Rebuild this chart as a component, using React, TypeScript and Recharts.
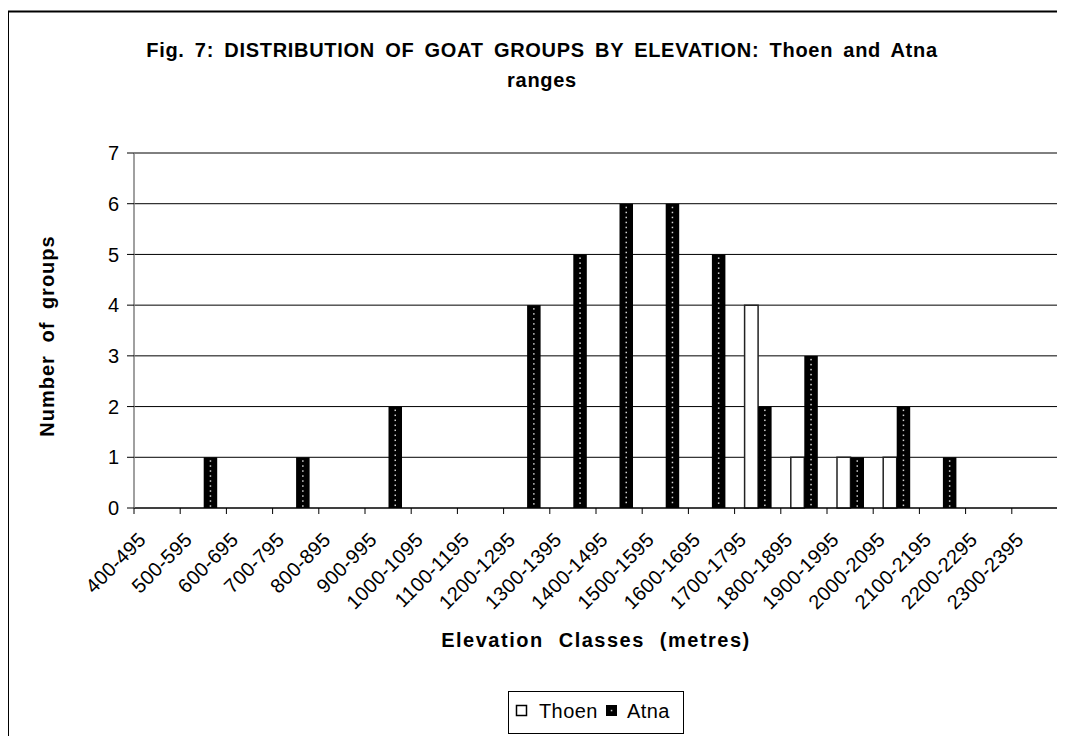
import React from 'react';
import { BarChart, Bar, XAxis, YAxis, CartesianGrid } from 'recharts';

// elevation classes (metres)
const categories = [
  '400-495', '500-595', '600-695', '700-795', '800-895', '900-995',
  '1000-1095', '1100-1195', '1200-1295', '1300-1395', '1400-1495',
  '1500-1595', '1600-1695', '1700-1795', '1800-1895', '1900-1995',
  '2000-2095', '2100-2195', '2200-2295', '2300-2395',
];
const thoenGroups = [0, 0, 0, 0, 0, 0, 0, 0, 0, 0, 0, 0, 0, 4, 1, 1, 1, 0, 0, 0];
const atnaGroups = [0, 1, 0, 1, 0, 2, 0, 0, 4, 5, 6, 6, 5, 2, 3, 1, 2, 1, 0, 0];
const yTicks = [0, 1, 2, 3, 4, 5, 6, 7];
const seriesNames = ['Thoen', 'Atna'];

const data = categories.map((range, i) => ({
  range,
  Thoen: thoenGroups[i],
  Atna: atnaGroups[i],
}));

const W = 1065;
const H = 736;
const MARGIN = { top: 153, right: 7, left: 74, bottom: 128 };
const Y_AXIS_W = 60;
const X_AXIS_H = 100;
const PLOT_LEFT = MARGIN.left + Y_AXIS_W;
const PLOT_RIGHT = W - MARGIN.right;
const PLOT_BOTTOM = H - MARGIN.bottom - X_AXIS_H;
const BAND = (PLOT_RIGHT - PLOT_LEFT) / categories.length;
const FONT = '"Liberation Sans", Arial, sans-serif';

function XTick(props: any) {
  const { x, y, payload, index } = props;
  const half = BAND / 2;
  const tx = x - 10;
  const ty = y + 33;
  return (
    <g>
      <line x1={x - half} x2={x - half} y1={y} y2={y + 6} stroke="#000" />
      {index === categories.length - 1 && (
        <line x1={x + half} x2={x + half} y1={y} y2={y + 6} stroke="#000" />
      )}
      <text
        x={tx}
        y={ty}
        transform={`rotate(-45, ${tx}, ${ty})`}
        textAnchor="end"
        fontSize={20}
        fontFamily={FONT}
        fill="#000"
        style={{ letterSpacing: '0.3px' }}
      >
        {payload.value}
      </text>
    </g>
  );
}

// black bar with a column of light dots, like the Excel pattern fill
function AtnaShape(props: any) {
  const { x, y, width, height } = props;
  if (!height || height <= 0) return null;
  const dots = [];
  for (let yy = y + 3; yy < y + height - 2; yy += 5) {
    dots.push(
      <rect key={yy} x={x + width / 2 - 0.75} y={yy} width={1.5} height={1.5} fill="#d0d0d0" />
    );
  }
  return (
    <g>
      <rect x={x} y={y} width={width} height={height} fill="#000" />
      {dots}
    </g>
  );
}

export default function App() {
  return (
    <div
      style={{
        position: 'relative',
        width: W,
        height: H,
        margin: '-8px 0 0 -8px',
        overflow: 'hidden',
        background: '#fff',
      }}
    >
      <div style={{ position: 'absolute', left: 0, top: 0 }}>
        <BarChart
          width={W}
          height={H}
          data={data}
          margin={MARGIN}
          barSize={13.5}
          barGap={0}
        >
          <CartesianGrid vertical={false} stroke="#000" />
          <XAxis
            dataKey="range"
            interval={0}
            height={X_AXIS_H}
            tickLine={false}
            tickSize={0}
            tickMargin={0}
            axisLine={{ stroke: '#000' }}
            tick={<XTick />}
          />
          <YAxis
            width={Y_AXIS_W}
            domain={[0, 7]}
            ticks={yTicks}
            interval={0}
            tickSize={7}
            tickMargin={8}
            axisLine={{ stroke: '#808080', strokeWidth: 1.5 }}
            tickLine={{ stroke: '#000' }}
            tick={{ fontSize: 20, fill: '#000', fontFamily: FONT }}
          />
          <Bar dataKey="Thoen" fill="#fff" stroke="#222" strokeWidth={1.5} isAnimationActive={false} />
          <Bar dataKey="Atna" shape={AtnaShape} isAnimationActive={false} />
        </BarChart>
      </div>

      <svg
        width={W}
        height={H}
        style={{ position: 'absolute', left: 0, top: 0, pointerEvents: 'none' }}
        fontFamily={FONT}
      >
        {/* chart frame, cut off at right and bottom */}
        <rect x={8} y={11.5} width={W + 20} height={H + 20} fill="none" stroke="#000" strokeWidth={2} />
        {/* plot area border */}
        <polyline
          points={`${PLOT_LEFT},${MARGIN.top} ${PLOT_RIGHT},${MARGIN.top} ${PLOT_RIGHT},${PLOT_BOTTOM}`}
          fill="none"
          stroke="#808080"
          strokeWidth={1.5}
        />

        <g fontWeight="bold" fontSize={20} fill="#000" textAnchor="middle">
          <text x={542} y={57} style={{ letterSpacing: '0.7px', wordSpacing: '4px' }}>
            Fig. 7: DISTRIBUTION OF GOAT GROUPS BY ELEVATION: Thoen and Atna
          </text>
          <text x={542} y={87} style={{ letterSpacing: '0.7px' }}>ranges</text>
          <text
            x={(PLOT_LEFT + PLOT_RIGHT) / 2}
            y={647}
            style={{ letterSpacing: '1.5px', wordSpacing: '8px' }}
          >
            Elevation Classes (metres)
          </text>
          <text
            x={54}
            y={336}
            transform="rotate(-90, 54, 336)"
            style={{ letterSpacing: '1px', wordSpacing: '6px' }}
          >
            Number of groups
          </text>
        </g>

        {/* legend */}
        <rect x={508.5} y={691.5} width={175} height={42} fill="#fff" stroke="#000" strokeWidth={1} />
        <rect x={516.5} y={705.5} width={10} height={10} fill="#fff" stroke="#000" strokeWidth={1.5} />
        <text x={539} y={718} fontSize={20} fill="#000" style={{ letterSpacing: '0.4px' }}>
          {seriesNames[0]}
        </text>
        <rect x={606} y={705} width={11} height={11} fill="#000" />
        <rect x={610.8} y={709.8} width={1.5} height={1.5} fill="#d0d0d0" />
        <text x={627} y={718} fontSize={20} fill="#000" style={{ letterSpacing: '0.4px' }}>
          {seriesNames[1]}
        </text>
      </svg>
    </div>
  );
}
